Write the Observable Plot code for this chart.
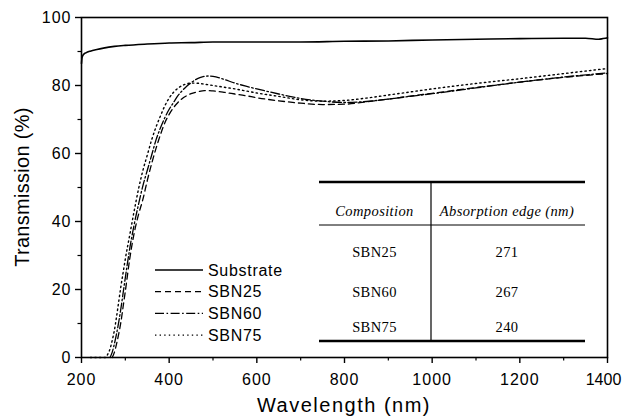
<!DOCTYPE html>
<html>
<head>
<meta charset="utf-8">
<script src="https://cdn.jsdelivr.net/npm/d3@7"></script>
<script src="https://cdn.jsdelivr.net/npm/@observablehq/plot@0.6"></script>
<style>
  body { margin: 0; background: #fff; }
  #chart svg { display: block; }
</style>
</head>
<body>
<div id="chart"></div>
<script>
// Optical transmission spectra of SBN thin films and the bare substrate

const substrateWavelengths = [200, 201, 203, 206, 210, 220, 235, 250, 275, 300, 350, 400, 450, 500, 600, 700, 800, 900, 1000, 1100, 1200, 1300, 1350, 1380, 1390, 1400];
const substrateTransmission = [86.5, 88, 88.8, 89.3, 89.6, 90.1, 90.6, 91, 91.5, 91.8, 92.2, 92.5, 92.6, 92.8, 92.8, 92.8, 93, 93.1, 93.4, 93.6, 93.8, 93.9, 93.9, 93.6, 93.8, 94];

const filmWavelengths = [220, 240, 255, 260, 265, 270, 275, 280, 285, 290, 295, 300, 310, 320, 330, 340, 350, 360, 370, 380, 390, 400, 410, 420, 430, 440, 450, 460, 470, 480, 490, 500, 525, 550, 575, 600, 650, 700, 750, 800, 850, 900, 950, 1000, 1100, 1200, 1300, 1400];
const sbn25Transmission = [null, null, null, null, null, 0, 1.5, 4, 7, 10.5, 15, 19.5, 29, 36.5, 42, 46.5, 52, 57, 61.5, 65.5, 69, 71.5, 73.5, 75, 76.2, 77, 77.6, 78, 78.3, 78.5, 78.5, 78.4, 78, 77.5, 77, 76.4, 75.5, 74.8, 74.4, 74.5, 75.2, 76, 76.9, 77.7, 79.4, 81, 82.4, 83.5];
const sbn60Transmission = [null, null, null, null, 0, 1.5, 4, 7, 10.5, 14.5, 19, 23.5, 32, 39, 45, 50.5, 55, 59.5, 64, 67.5, 70.5, 73, 75, 77, 78.5, 79.8, 80.8, 81.7, 82.3, 82.7, 82.8, 82.7, 81.8, 80.7, 79.8, 79, 77.5, 76.2, 75.4, 75, 75.3, 76, 76.8, 77.6, 79.3, 81, 82.5, 83.7];
const sbn75Transmission = [0, 0, 0, 1, 2.5, 5, 8, 12, 16.5, 21, 25, 29, 36, 43, 49.5, 55, 59.5, 64, 67.8, 71, 74, 76.3, 78, 79.2, 80, 80.5, 80.7, 80.7, 80.6, 80.4, 80.2, 80, 79.5, 79, 78.4, 77.8, 76.8, 75.8, 75.4, 75.6, 76.3, 77.2, 78.1, 79, 80.6, 82, 83.5, 85];

const seriesNames = ["Substrate", "SBN25", "SBN60", "SBN75"];
const xTicks = [200, 400, 600, 800, 1000, 1200, 1400];
const xMinorTicks = [300, 500, 700, 900, 1100, 1300];
const yTicks = [0, 20, 40, 60, 80, 100];
const yMinorTicks = [10, 30, 50, 70, 90];

const tableHeader = ["Composition", "Absorption edge (nm)"];
const compositions = ["SBN25", "SBN60", "SBN75"];
const absorptionEdges = [271, 267, 240];

// line style per series
const dashes = {Substrate: null, SBN25: "6,4", SBN60: "9,2.5,1.6,2.5", SBN75: "1.4,3.2"};
const widths = {Substrate: 1.6, SBN25: 1.3, SBN60: 1.3, SBN75: 1.4};

const rows = [];
substrateWavelengths.forEach((w, i) => rows.push({series: "Substrate", wl: w, t: substrateTransmission[i]}));
[["SBN25", sbn25Transmission], ["SBN60", sbn60Transmission], ["SBN75", sbn75Transmission]].forEach(([name, values]) => {
  filmWavelengths.forEach((w, i) => { if (values[i] != null) rows.push({series: name, wl: w, t: values[i]}); });
});

const W = 624, H = 417;
const M = {left: 81, right: 17, top: 17, bottom: 60};
const plain = d => String(d);
const lastX = xTicks[xTicks.length - 1];

const svg = Plot.plot({
  width: W,
  height: H,
  marginLeft: M.left,
  marginRight: M.right,
  marginTop: M.top,
  marginBottom: M.bottom,
  style: {fontFamily: "'Liberation Sans', Arial, sans-serif", fontSize: "16px", color: "#000", background: "#fff", letterSpacing: "1px"},
  x: {domain: [200, 1400]},
  y: {domain: [0, 100]},
  marks: [
    // major tick lines, then labels (the last label is nudged inward at the right edge)
    Plot.axisX({ticks: xTicks, tickSize: 6, strokeWidth: 1.4, tickFormat: () => "", label: null}),
    Plot.axisX({ticks: xTicks.slice(0, -1), tickSize: 0, tickPadding: 16, tickFormat: plain, label: null}),
    Plot.axisX({ticks: [lastX], tickSize: 0, tickPadding: 16, tickFormat: plain, label: null, dx: -4}),
    Plot.axisX({ticks: xMinorTicks, tickSize: 3.5, strokeWidth: 1.2, tickFormat: () => "", label: null}),
    Plot.axisY({ticks: yTicks, tickSize: 6, tickPadding: 4, strokeWidth: 1.4, tickFormat: plain, label: null}),
    Plot.axisY({ticks: yMinorTicks, tickSize: 3.5, strokeWidth: 1.2, tickFormat: () => "", label: null}),
    ...seriesNames.map(name => Plot.line(rows.filter(d => d.series === name), {
      x: "wl", y: "t", curve: "monotone-x",
      stroke: "#000", strokeWidth: widths[name],
      strokeDasharray: dashes[name] ?? undefined
    })),
    Plot.frame({stroke: "#000", strokeWidth: 1.6})
  ]
});

const root = d3.select(svg);
root.selectAll("text").filter(function () { return this.textContent === String(lastX); })
  .style("letter-spacing", "0px");

// axis titles
root.append("text")
  .attr("x", (M.left + W - M.right) / 2).attr("y", 412)
  .attr("text-anchor", "middle")
  .style("font-size", "20px").style("letter-spacing", "1.5px")
  .text("Wavelength (nm)");
root.append("text")
  .attr("transform", "translate(29,187) rotate(-90)")
  .attr("text-anchor", "middle")
  .style("font-size", "20px").style("letter-spacing", "0.3px")
  .text("Transmission (%)");

// legend
const legend = root.append("g");
seriesNames.forEach((name, i) => {
  const y = 270 + i * 21.7;
  legend.append("line")
    .attr("x1", 155).attr("x2", 203).attr("y1", y).attr("y2", y)
    .attr("stroke", "#000").attr("stroke-width", widths[name])
    .attr("stroke-dasharray", dashes[name]);
  legend.append("text")
    .attr("x", 208).attr("y", y).attr("dy", "0.36em")
    .attr("text-anchor", "start")
    .style("font-size", "16px").style("letter-spacing", "0.7px")
    .text(name);
});

// inset table of absorption edges
const table = root.append("g").style("font-family", "'Liberation Serif', 'Times New Roman', serif").style("font-size", "14.5px").style("letter-spacing", "0.4px");
const tx0 = 319, tx1 = 585, tdiv = 431, ty0 = 182, ty1 = 341, tyHead = 225;
const col1 = 374.5, col2 = 507;
table.append("line").attr("x1", tx0).attr("x2", tx1).attr("y1", ty0).attr("y2", ty0).attr("stroke", "#000").attr("stroke-width", 2.6);
table.append("line").attr("x1", tx0).attr("x2", tx1).attr("y1", ty1).attr("y2", ty1).attr("stroke", "#000").attr("stroke-width", 2.6);
table.append("line").attr("x1", tx0).attr("x2", tx1).attr("y1", tyHead).attr("y2", tyHead).attr("stroke", "#000").attr("stroke-width", 1);
table.append("line").attr("x1", tdiv).attr("x2", tdiv).attr("y1", ty0).attr("y2", ty1).attr("stroke", "#000").attr("stroke-width", 1.2);
[col1, col2].forEach((cx, i) => {
  table.append("text").attr("x", cx).attr("y", 211).attr("dy", "0.35em")
    .attr("text-anchor", "middle").style("font-style", "italic").text(tableHeader[i]);
});
const rowY = [252, 292, 327];
compositions.forEach((c, i) => {
  table.append("text").attr("x", col1).attr("y", rowY[i]).attr("dy", "0.35em").attr("text-anchor", "middle").text(c);
  table.append("text").attr("x", col2).attr("y", rowY[i]).attr("dy", "0.35em").attr("text-anchor", "middle").text(absorptionEdges[i]);
});

document.getElementById("chart").append(svg);
</script>
</body>
</html>
